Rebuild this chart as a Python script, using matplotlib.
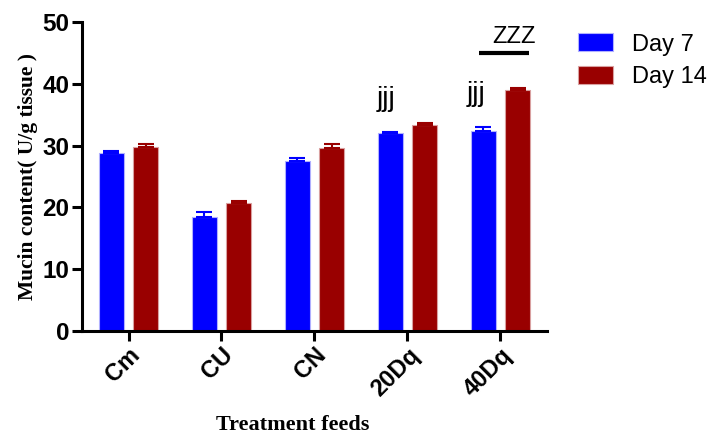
import matplotlib
matplotlib.use('Agg')
import matplotlib.pyplot as plt
import numpy as np

groups = ['Cm', 'CU', 'CN', '20Dq', '40Dq']
day7 = [28.8, 18.5, 27.5, 32.1, 32.4]
day7_err = [0.4, 0.7, 0.5, 0.1, 0.6]
day14 = [29.8, 20.7, 29.6, 33.3, 39.0]
day14_err = [0.5, 0.3, 0.7, 0.3, 0.4]
series_names = ['Day 7', 'Day 14']

fig = plt.figure(figsize=(7.15, 4.36), dpi=100)
ax = fig.add_axes([0.1147, 0.2408, 0.6503, 0.7087])

x = np.arange(len(groups))
w = 0.27
off = 0.185
blue = '#0000ff'
red = '#990000'

b1 = ax.bar(x - off, day7, w, color=blue, edgecolor='#b0b0ff', linewidth=0.8, label=series_names[0])
b2 = ax.bar(x + off, day14, w, color=red, edgecolor='#d9a0a0', linewidth=0.8, label=series_names[1])
ax.errorbar(x - off, day7, yerr=[np.zeros(len(day7)), day7_err], fmt='none', ecolor=blue,
            elinewidth=1.5, capsize=6, capthick=1.5)
ax.errorbar(x + off, day14, yerr=[np.zeros(len(day14)), day14_err], fmt='none', ecolor=red,
            elinewidth=1.5, capsize=6, capthick=1.5)

# significance marks
ax.text(3 - off - 0.05, 37.6, 'jjj', ha='center', va='center', fontsize=20, family='Liberation Sans')
ax.text(4 - off - 0.08, 38.3, 'jjj', ha='center', va='center', fontsize=20, family='Liberation Sans')
ax.plot([3.77, 4.31], [45, 45], color='black', lw=3, solid_capstyle='butt')
ax.text(4.15, 47.6, 'ZZZ', ha='center', va='center', fontsize=17, family='Liberation Sans')

ax.set_xlim(-0.5, 4.5)
ax.set_ylim(0, 50)
ax.set_yticks([0, 10, 20, 30, 40, 50])
ax.set_xticks(x)
ax.set_xticklabels(groups, rotation=45, ha='right', rotation_mode='anchor',
                   fontsize=17, fontweight='bold', family='Liberation Sans')
for lab in ax.get_yticklabels():
    lab.set_fontsize(17.5)
    lab.set_fontweight('bold')
    lab.set_family('Liberation Sans')

for s in ['top', 'right']:
    ax.spines[s].set_visible(False)
for s in ['left', 'bottom']:
    ax.spines[s].set_linewidth(2.2)
ax.tick_params(axis='both', width=2.2, length=7, pad=2)

ax.set_ylabel('Mucin content( U/g tissue )', fontsize=15.5, fontweight='bold',
              family='Liberation Serif', labelpad=3)
fig.text(0.41, 0.025, 'Treatment feeds', ha='center', va='center', fontsize=16,
         fontweight='bold', family='Liberation Serif')

fig.legend(handles=[b1, b2], labels=series_names, loc='upper left', bbox_to_anchor=(0.779, 0.972),
           frameon=False, prop={'family': 'Liberation Sans', 'size': 17},
           handlelength=1.48, handleheight=0.78, handletextpad=0.8, labelspacing=0.45)

fig.savefig('out.png', dpi=100)
